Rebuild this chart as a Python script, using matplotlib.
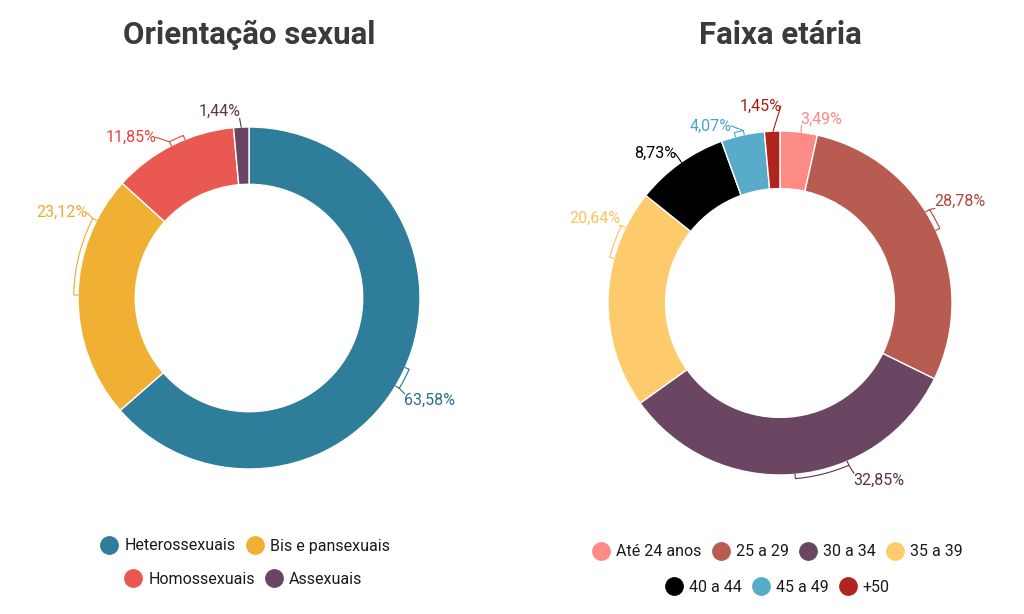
import numpy as np
import matplotlib
matplotlib.use("Agg")
import matplotlib.pyplot as plt
from matplotlib.lines import Line2D

plt.rcParams['font.family'] = ['Roboto', 'DejaVu Sans']

# --- data ---
orient_labels = ["Heterossexuais", "Bis e pansexuais", "Homossexuais", "Assexuais"]
orient_values = [63.58, 23.12, 11.85, 1.44]
orient_colors = ["#2e7d9a", "#f0b034", "#e95952", "#6b4463"]
orient_text_colors = ["#2a6f8a", "#f0a92e", "#e8413c", "#5a3550"]

age_labels = ["Até 24 anos", "25 a 29", "30 a 34", "35 a 39", "40 a 44", "45 a 49", "+50"]
age_values = [3.49, 28.78, 32.85, 20.64, 8.73, 4.07, 1.45]
age_colors = ["#fd8b85", "#b85c52", "#6b4663", "#fecb6c", "#000000", "#58abcb", "#b0261e"]
age_text_colors = ["#f98a82", "#b0443a", "#5a3050", "#fdc25a", "#000000", "#4aa4c8", "#a81e14"]

# label placement: (bracket theta start, theta end, text x, text y, ha)
orient_label_pos = [(-24, -31, 0.905, -0.60, "left"),
                    (179, 153, -0.945, 0.50, "right"),
                    (112, 117, -0.54, 0.94, "right"),
                    (92.6, 92.6, -0.05, 1.09, "right")]
age_label_pos = [(83, 83, 0.12, 1.07, "left"),
                 (25, 32, 0.895, 0.59, "left"),
                 (-85, -67, 0.425, -1.03, "left"),
                 (165, 154, -0.93, 0.49, "right"),
                 (125, 125, -0.605, 0.87, "right"),
                 (105, 102, -0.28, 1.03, "right"),
                 (92.3, 92.3, 0.01, 1.145, "right")]

W, H = 1024, 614
fig = plt.figure(figsize=(W / 100, H / 100), dpi=100)


def donut_axes(cx, cy, r):
    half = 1.25 * r
    ax = fig.add_axes([(cx - half) / W, (H - cy - half) / H, 2 * half / W, 2 * half / H])
    ax.set_xlim(-1.25, 1.25)
    ax.set_ylim(-1.25, 1.25)
    ax.set_aspect("equal")
    ax.axis("off")
    return ax


def draw_donut(ax, values, colors, text_colors, label_pos):
    ax.pie(values, colors=colors, startangle=90, counterclock=False, radius=1.0,
           wedgeprops=dict(width=0.335, edgecolor="white", linewidth=1.0))
    for v, tc, (t1, t2, tx, ty, ha) in zip(values, text_colors, label_pos):
        R = 1.025
        th = np.radians(np.linspace(t1, t2, 30))
        xs = list(R * np.cos(th))
        ys = list(R * np.sin(th))
        if t1 != t2:
            xs = [1.0 * np.cos(th[0])] + xs + [1.0 * np.cos(th[-1])]
            ys = [1.0 * np.sin(th[0])] + ys + [1.0 * np.sin(th[-1])]
            ax.plot(xs, ys, color=tc, lw=0.8, solid_joinstyle="miter")
            sx, sy = R * np.cos(th[-1]), R * np.sin(th[-1])
        else:
            sx, sy = 1.0 * np.cos(th[-1]), 1.0 * np.sin(th[-1])
        ex = tx + (0.005 if ha == "left" else -0.005)
        ey = ty + (0.04 if sy > ty else -0.04)
        if abs(sx - tx) > 0.03:
            ey = ty
        ax.plot([sx, ex], [sy, ey], color=tc, lw=0.8)
        ax.text(tx, ty, f"{v:.2f}%".replace(".", ","), color=tc, fontsize=11.5,
                ha=ha, va="center")


ax1 = donut_axes(249, 298, 171)
draw_donut(ax1, orient_values, orient_colors, orient_text_colors, orient_label_pos)
ax2 = donut_axes(780, 303, 172)
draw_donut(ax2, age_values, age_colors, age_text_colors, age_label_pos)

fig.text(249 / W, 1 - 35 / H, "Orientação sexual", fontsize=22.5, fontweight="bold",
         color="#3a3a3a", ha="center", va="center")
fig.text(780 / W, 1 - 35 / H, "Faixa etária", fontsize=22.5, fontweight="bold",
         color="#3a3a3a", ha="center", va="center")


def legend_row(labels, colors, cx, cy):
    handles = [Line2D([], [], marker="o", ls="none", markersize=12.5,
                      markerfacecolor=c, markeredgecolor=c) for c in colors]
    leg = fig.legend(handles, labels, loc="center", bbox_to_anchor=(cx / W, 1 - cy / H),
                     ncol=len(labels), frameon=False, fontsize=11.5,
                     handletextpad=0.35, columnspacing=0.6, handlelength=1.2,
                     borderaxespad=0)
    for t in leg.get_texts():
        t.set_color("#1a1a1a")
    return leg


legend_row(orient_labels[:2], orient_colors[:2], 245, 546)
legend_row(orient_labels[2:], orient_colors[2:], 243, 579)
legend_row(age_labels[:4], age_colors[:4], 777, 552)
legend_row(age_labels[4:], age_colors[4:], 777, 587)

fig.savefig("out.png", dpi=100)
